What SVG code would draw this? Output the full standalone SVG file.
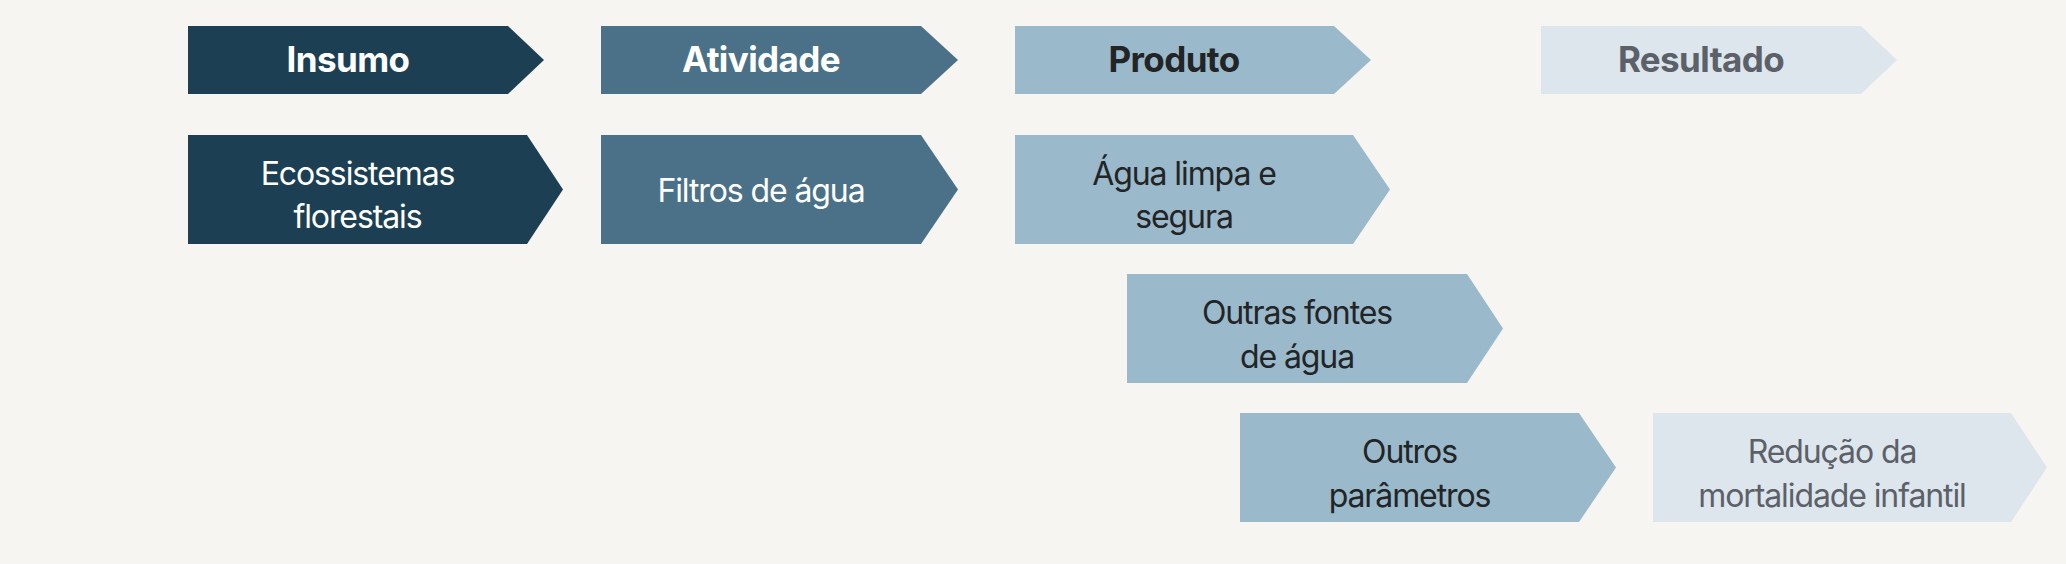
<svg xmlns="http://www.w3.org/2000/svg" width="2066" height="564" viewBox="0 0 2066 564">
<style>
.c1{fill:#1c3f53}
.c2{fill:#4a7187}
.c3{fill:#9ab9ca}
.c4{fill:#dce6ec}
text{font-family:Inter,"Noto Sans","Liberation Sans",sans-serif;text-anchor:middle}
.h{font-size:35px;font-weight:700;letter-spacing:-0.6px}
.b{font-size:32px;font-weight:400;letter-spacing:-1.1px}
.tw{fill:#ffffff}
.td{fill:#222426}
.tg{fill:#5c6069}
</style>
<rect width="2066" height="564" fill="#f7f5f2"/>
<g id="hdr-insumo"><polygon class="c1" points="188,26 508,26 544,60 508,94 188,94"/><text class="h tw" x="348" y="72">Insumo</text></g>
<g id="hdr-atividade"><polygon class="c2" points="601,26 921,26 958,60 921,94 601,94"/><text class="h tw" x="761" y="72">Atividade</text></g>
<g id="hdr-produto"><polygon class="c3" points="1015,26 1334,26 1371,60 1334,94 1015,94"/><text class="h td" x="1174" y="72">Produto</text></g>
<g id="hdr-resultado"><polygon class="c4" points="1541,26 1861,26 1897,60 1861,94 1541,94"/><text class="h tg" x="1701" y="72">Resultado</text></g>
<g id="n-ecossistemas"><polygon class="c1" points="188,135 527,135 563,189.5 527,244 188,244"/><text class="b tw" x="357.5" y="185">Ecossistemas</text><text class="b tw" x="357.5" y="228">florestais</text></g>
<g id="n-filtros"><polygon class="c2" points="601,135 921,135 958,189.5 921,244 601,244"/><text class="b tw" x="761" y="202">Filtros de água</text></g>
<g id="n-agua"><polygon class="c3" points="1015,135 1353,135 1390,189.5 1353,244 1015,244"/><text class="b td" x="1184" y="185">Água limpa e</text><text class="b td" x="1184" y="228">segura</text></g>
<g id="n-outras"><polygon class="c3" points="1127,274 1467,274 1503,328.5 1467,383 1127,383"/><text class="b td" x="1297" y="324">Outras fontes</text><text class="b td" x="1297" y="368">de água</text></g>
<g id="n-outros"><polygon class="c3" points="1240,413 1579,413 1616,467.5 1579,522 1240,522"/><text class="b td" x="1409.5" y="463">Outros</text><text class="b td" x="1409.5" y="507">parâmetros</text></g>
<g id="n-reducao"><polygon class="c4" points="1653,413 2011,413 2047,467.5 2011,522 1653,522"/><text class="b tg" x="1832" y="463">Redução da</text><text class="b tg" x="1832" y="507">mortalidade infantil</text></g>
<g id="connectors"></g>
</svg>
